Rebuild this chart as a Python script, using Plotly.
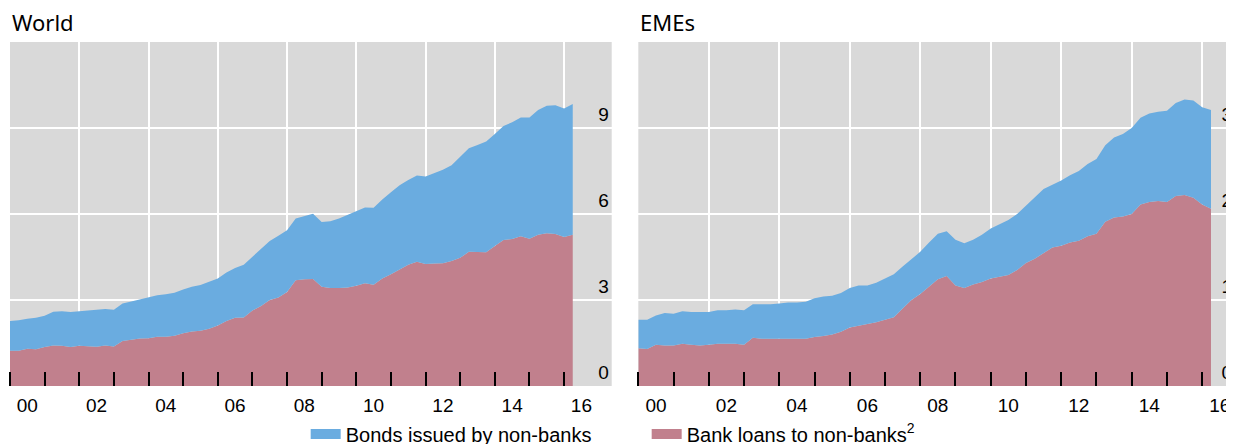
import plotly.graph_objects as go

# quarterly observations, 2000 Q1 .. 2016 Q2 (USD trn)
quarters = [2000 + q / 4 for q in range(66)]

world_loans = [1.23, 1.23, 1.30, 1.28, 1.36, 1.41, 1.40, 1.36, 1.40, 1.38, 1.37, 1.41,
               1.38, 1.57, 1.61, 1.66, 1.67, 1.72, 1.72, 1.75, 1.84, 1.90, 1.93, 2.00,
               2.11, 2.27, 2.38, 2.39, 2.63, 2.79, 3.00, 3.09, 3.28, 3.69, 3.72, 3.73,
               3.46, 3.42, 3.42, 3.44, 3.50, 3.58, 3.53, 3.75, 3.90, 4.07, 4.23, 4.33,
               4.26, 4.27, 4.28, 4.36, 4.47, 4.68, 4.67, 4.67, 4.88, 5.09, 5.13, 5.22,
               5.14, 5.28, 5.33, 5.30, 5.20, 5.28]
world_bonds = [1.04, 1.06, 1.05, 1.10, 1.09, 1.18, 1.21, 1.22, 1.21, 1.26, 1.28, 1.28,
               1.28, 1.31, 1.34, 1.36, 1.42, 1.45, 1.48, 1.50, 1.53, 1.56, 1.59, 1.64,
               1.64, 1.69, 1.74, 1.84, 1.87, 1.97, 2.06, 2.15, 2.15, 2.15, 2.20, 2.28,
               2.26, 2.33, 2.42, 2.53, 2.60, 2.65, 2.69, 2.76, 2.86, 2.93, 2.96, 3.01,
               3.05, 3.16, 3.26, 3.34, 3.51, 3.61, 3.74, 3.86, 3.91, 3.98, 4.07, 4.15,
               4.23, 4.35, 4.45, 4.49, 4.48, 4.56]

eme_loans = [0.44, 0.43, 0.48, 0.47, 0.47, 0.49, 0.48, 0.47, 0.48, 0.49, 0.49, 0.49,
             0.48, 0.56, 0.55, 0.55, 0.55, 0.55, 0.55, 0.55, 0.57, 0.58, 0.60, 0.63,
             0.68, 0.70, 0.72, 0.74, 0.77, 0.80, 0.90, 1.00, 1.07, 1.16, 1.24, 1.28,
             1.17, 1.14, 1.18, 1.21, 1.25, 1.27, 1.29, 1.35, 1.43, 1.48, 1.55, 1.61,
             1.63, 1.67, 1.69, 1.74, 1.77, 1.91, 1.96, 1.97, 2.00, 2.11, 2.14, 2.15,
             2.14, 2.21, 2.22, 2.19, 2.11, 2.06]
eme_bonds = [0.33, 0.34, 0.34, 0.38, 0.37, 0.38, 0.38, 0.39, 0.38, 0.39, 0.39, 0.40,
             0.40, 0.39, 0.40, 0.40, 0.41, 0.42, 0.42, 0.43, 0.45, 0.46, 0.45, 0.45,
             0.46, 0.47, 0.45, 0.46, 0.48, 0.50, 0.49, 0.48, 0.49, 0.51, 0.53, 0.52,
             0.53, 0.52, 0.52, 0.55, 0.58, 0.61, 0.64, 0.65, 0.67, 0.72, 0.74, 0.73,
             0.76, 0.78, 0.81, 0.84, 0.87, 0.89, 0.93, 0.96, 1.00, 1.01, 1.03, 1.04,
             1.06, 1.08, 1.11, 1.13, 1.13, 1.15]

year_labels = ["00", "02", "04", "06", "08", "10", "12", "14", "16"]
world_yticks = [0, 3, 6, 9]
eme_yticks = [0, 1, 2, 3]

BLUE = "#6aace0"
PINK = "#c1808d"
GREY = "#d9d9d9"
FONT = "Arial, Liberation Sans, sans-serif"

fig = go.Figure()

# legend entries only
fig.add_trace(go.Scatter(x=[None], y=[None], mode="lines", name="Bonds issued by non-banks",
                         line=dict(color=BLUE, width=16)))
fig.add_trace(go.Scatter(x=[None], y=[None], mode="lines", name="Bank loans to non-banks<sup>2</sup>",
                         line=dict(color=PINK, width=16)))

for xa, ya, loans, bonds, grp in [("x", "y", world_loans, world_bonds, "w"),
                                  ("x2", "y2", eme_loans, eme_bonds, "e")]:
    fig.add_trace(go.Scatter(x=quarters, y=loans, mode="lines", stackgroup=grp,
                             line=dict(width=0, color=PINK), fillcolor=PINK,
                             xaxis=xa, yaxis=ya, showlegend=False, hoverinfo="skip"))
    fig.add_trace(go.Scatter(x=quarters, y=bonds, mode="lines", stackgroup=grp,
                             line=dict(width=0, color=BLUE), fillcolor=BLUE,
                             xaxis=xa, yaxis=ya, showlegend=False, hoverinfo="skip"))

# dummy traces so the grid overlay axes get drawn
fig.add_trace(go.Scatter(x=[None], y=[None], xaxis="x3", yaxis="y", showlegend=False))
fig.add_trace(go.Scatter(x=[None], y=[None], xaxis="x4", yaxis="y2", showlegend=False))

label_vals = [2000 + int(s) + 0.5 for s in year_labels]
year_starts = list(range(2000, 2018))
grid_years = list(range(2002, 2018, 2))


def label_axis(domain, rng, anchor):
    return dict(domain=domain, range=rng, anchor=anchor, tickmode="array",
                tickvals=label_vals, ticktext=year_labels, ticks="", showgrid=False,
                zeroline=False, showline=False, ticklabelstandoff=6,
                tickfont=dict(family=FONT, size=19, color="black"),
                minor=dict(tickmode="array", tickvals=year_starts, ticks="inside", ticklen=14,
                           tickwidth=1.5, tickcolor="black", showgrid=False))


def grid_axis(over, rng, anchor):
    return dict(overlaying=over, range=rng, anchor=anchor, tickmode="array",
                tickvals=grid_years, showticklabels=False, ticks="", showgrid=True,
                gridcolor="white", gridwidth=2, zeroline=False, showline=False)


def value_axis(rng, ticks, anchor, standoff):
    return dict(range=rng, anchor=anchor, side="right", tickmode="array", tickvals=ticks,
                ticks="", ticklabelposition="inside top", ticklabelstandoff=standoff,
                showgrid=True, gridcolor="white",
                gridwidth=2, zeroline=False, showline=False,
                tickfont=dict(family=FONT, size=19, color="black"))


w_range = [2000, 2017.375]
e_range = [2000, 2017.13]

fig.update_layout(
    width=1234, height=444,
    margin=dict(l=2, r=0, t=34, b=65.7, autoexpand=False),
    paper_bgcolor="white", plot_bgcolor=GREY,
    xaxis=label_axis([0, 0.4884], w_range, "y"),
    xaxis2=label_axis([0.51, 1], e_range, "y2"),
    xaxis3=grid_axis("x", w_range, "y"),
    xaxis4=grid_axis("x2", e_range, "y2"),
    yaxis=value_axis([0, 12], world_yticks, "x", 0),
    yaxis2=value_axis([0, 4], eme_yticks, "x2", 7),
    legend=dict(orientation="h", traceorder="normal", x=0.240, xanchor="left",
                y=-0.083, yanchor="top", entrywidth=296,
                font=dict(family=FONT, size=20, color="black"), bgcolor="rgba(0,0,0,0)"),
    annotations=[
        dict(text="World", xref="x domain", yref="paper", x=0, y=1.058, xanchor="left",
             yanchor="middle", showarrow=False, font=dict(family="Noto Sans", size=22, color="black")),
        dict(text="EMEs", xref="x2 domain", yref="paper", x=0, y=1.058, xanchor="left",
             yanchor="middle", showarrow=False, font=dict(family="Noto Sans", size=22, color="black")),
    ],
)

fig.write_html("out.html")
